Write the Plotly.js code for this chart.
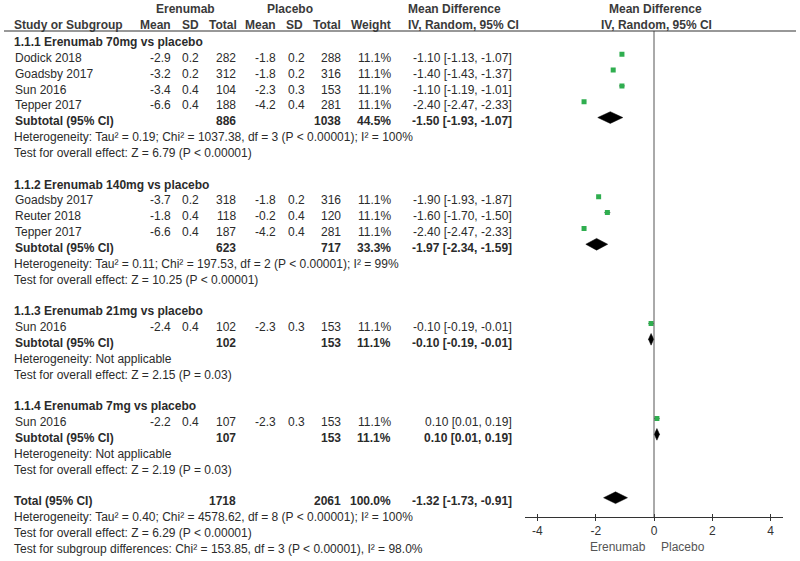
<!DOCTYPE html>
<html><head><meta charset="utf-8">
<script src="https://cdn.plot.ly/plotly-3.0.1.min.js"></script>
<style>html,body{margin:0;padding:0;background:#fff}#chart{width:800px;height:561px}</style>
</head><body><div id="chart"></div>
<script>
// ---------- data ----------
const groupTitles = ["1.1.1 Erenumab 70mg vs placebo", "1.1.2 Erenumab 140mg vs placebo", "1.1.3 Erenumab 21mg vs placebo", "1.1.4 Erenumab 7mg vs placebo"];
const studyNames = ["Dodick 2018", "Goadsby 2017", "Sun 2016", "Tepper 2017", "Goadsby 2017", "Reuter 2018", "Tepper 2017", "Sun 2016", "Sun 2016"];
const studyGroup = [0, 0, 0, 0, 1, 1, 1, 2, 3];
const expMean = [-2.9, -3.2, -3.4, -6.6, -3.7, -1.8, -6.6, -2.4, -2.2];
const expSD = [0.2, 0.2, 0.4, 0.4, 0.2, 0.4, 0.4, 0.4, 0.4];
const expN = [282, 312, 104, 188, 318, 118, 187, 102, 107];
const ctlMean = [-1.8, -1.8, -2.3, -4.2, -1.8, -0.2, -4.2, -2.3, -2.3];
const ctlSD = [0.2, 0.2, 0.3, 0.4, 0.2, 0.4, 0.4, 0.3, 0.3];
const ctlN = [288, 316, 153, 281, 316, 120, 281, 153, 153];
const studyWeight = [11.1, 11.1, 11.1, 11.1, 11.1, 11.1, 11.1, 11.1, 11.1];
const studyMD = [-1.10, -1.40, -1.10, -2.40, -1.90, -1.60, -2.40, -0.10, 0.10];
const studyLo = [-1.13, -1.43, -1.19, -2.47, -1.93, -1.70, -2.47, -0.19, 0.01];
const studyHi = [-1.07, -1.37, -1.01, -2.33, -1.87, -1.50, -2.33, -0.01, 0.19];
const subExpN = [886, 623, 102, 107];
const subCtlN = [1038, 717, 153, 153];
const subWeight = [44.5, 33.3, 11.1, 11.1];
const subMD = [-1.50, -1.97, -0.10, 0.10];
const subLo = [-1.93, -2.34, -0.19, 0.01];
const subHi = [-1.07, -1.59, -0.01, 0.19];
const subHet = [
  "Heterogeneity: Tau² = 0.19; Chi² = 1037.38, df = 3 (P < 0.00001); I² = 100%",
  "Heterogeneity: Tau² = 0.11; Chi² = 197.53, df = 2 (P < 0.00001); I² = 99%",
  "Heterogeneity: Not applicable",
  "Heterogeneity: Not applicable"];
const subTest = [
  "Test for overall effect: Z = 6.79 (P < 0.00001)",
  "Test for overall effect: Z = 10.25 (P < 0.00001)",
  "Test for overall effect: Z = 2.15 (P = 0.03)",
  "Test for overall effect: Z = 2.19 (P = 0.03)"];
const totalStats = [1718, 2061, 100.0];           // exp N, ctl N, weight
const totalEffect = [-1.32, -1.73, -0.91];        // MD, lo, hi
const totalNotes = [
  "Heterogeneity: Tau² = 0.40; Chi² = 4578.62, df = 8 (P < 0.00001); I² = 100%",
  "Test for overall effect: Z = 6.29 (P < 0.00001)",
  "Test for subgroup differences: Chi² = 153.85, df = 3 (P < 0.00001), I² = 98.0%"];
const xTickVals = [-4, -2, 0, 2, 4];
const xTickText = ["-4", "-2", "0", "2", "4"];
const favourLabels = ["Erenumab", "Placebo"];

// ---------- layout helpers ----------
const W = 800, H = 561;
const FONT = "Liberation Sans, Arial, Helvetica, sans-serif";
const TXT = "#2b2b2b";
const ROW0 = 42, ROWH = 15.84;
const px2row = p => (p - ROW0) / ROWH;
const col = {name: 13, em: 172, esd: 200, en: 237, cm: 277, csd: 306, cn: 342, w: 392, ci: 513};
const annotations = [];
function ann(text, px, row, anchor, bold, color) {
  annotations.push({text: bold ? "<b>" + text + "</b>" : text, xref: "paper", x: px / W,
    yref: "y", y: row, xanchor: anchor, yanchor: "middle", showarrow: false, borderpad: 0,
    font: {family: FONT, size: 12, color: color || TXT}});
}
const f1 = v => v.toFixed(1), f2 = v => v.toFixed(2);
const ciText = (m, l, h) => f2(m) + " [" + f2(l) + ", " + f2(h) + "]";

// headers
const HC = "#3a3a3a";
const hr1 = px2row(9), hr2 = px2row(25);
ann("Erenumab", 185, hr1, "center", true, HC);
ann("Placebo", 290, hr1, "center", true, HC);
ann("Mean Difference", 407, hr1, "left", true, HC);
ann("Mean Difference", 655, hr1, "center", true, HC);
ann("Study or Subgroup", col.name, hr2, "left", true, HC);
ann("Mean", col.em, hr2, "right", true, HC);
ann("SD", col.esd, hr2, "right", true, HC);
ann("Total", 238, hr2, "right", true, HC);
ann("Mean", col.cm, hr2, "right", true, HC);
ann("SD", 304, hr2, "right", true, HC);
ann("Total", col.cn, hr2, "right", true, HC);
ann("Weight", col.w, hr2, "right", true, HC);
ann("IV, Random, 95% CI", 407, hr2, "left", true, HC);
ann("IV, Random, 95% CI", 656, hr2, "center", true, HC);

// body rows
const studyRows = [], subRows = [];
let k = 0;
groupTitles.forEach((title, g) => {
  ann(title, col.name, k, "left", true); k++;
  studyNames.forEach((nm, i) => {
    if (studyGroup[i] !== g) return;
    ann(nm, 14, k, "left");
    ann(f1(expMean[i]), col.em, k, "right");
    ann(f1(expSD[i]), col.esd, k, "right");
    ann(String(expN[i]), col.en, k, "right");
    ann(f1(ctlMean[i]), col.cm, k, "right");
    ann(f1(ctlSD[i]), col.csd, k, "right");
    ann(String(ctlN[i]), col.cn, k, "right");
    ann(f1(studyWeight[i]) + "%", col.w, k, "right");
    ann(ciText(studyMD[i], studyLo[i], studyHi[i]), col.ci, k, "right");
    studyRows[i] = k; k++;
  });
  ann("Subtotal (95% CI)", 14, k, "left", true);
  ann(String(subExpN[g]), col.en, k, "right", true);
  ann(String(subCtlN[g]), col.cn, k, "right", true);
  ann(f1(subWeight[g]) + "%", col.w, k, "right", true);
  ann(ciText(subMD[g], subLo[g], subHi[g]), col.ci, k, "right", true);
  subRows[g] = k; k++;
  ann(subHet[g], col.name, k, "left"); k++;
  ann(subTest[g], col.name, k, "left"); k++;
  k++;
});
const totalRow = k;
ann("Total (95% CI)", col.name, k, "left", true);
ann(String(totalStats[0]), col.en, k, "right", true);
ann(String(totalStats[1]), col.cn, k, "right", true);
ann(f1(totalStats[2]) + "%", col.w, k, "right", true);
ann(ciText(totalEffect[0], totalEffect[1], totalEffect[2]), col.ci, k, "right", true);
k++;
totalNotes.forEach(t => { ann(t, col.name, k, "left"); k++; });

// favour labels under axis
const axisY = 1 - 517 / H;
annotations.push({text: favourLabels[0], xref: "x", x: -0.24, yref: "paper", y: 1 - 539 / H,
  xanchor: "right", yanchor: "top", showarrow: false, borderpad: 0, font: {family: FONT, size: 12, color: "#555"}});
annotations.push({text: favourLabels[1], xref: "x", x: 0.2, yref: "paper", y: 1 - 539 / H,
  xanchor: "left", yanchor: "top", showarrow: false, borderpad: 0, font: {family: FONT, size: 12, color: "#555"}});

// ---------- traces ----------
const MOFF = -0.23, DH = 0.37;
const traces = [];
traces.push({
  type: "scatter", mode: "markers", x: studyMD, y: studyRows.map(r => r + MOFF),
  marker: {symbol: "square", size: 5, color: "#2fae4f"},
  error_x: {type: "data", symmetric: false,
    array: studyHi.map((h, i) => h - studyMD[i]), arrayminus: studyLo.map((l, i) => studyMD[i] - l),
    thickness: 1, width: 0, color: "#333"},
  hoverinfo: "skip", showlegend: false
});
function diamond(m, l, h, r) {
  const y = r + MOFF;
  traces.push({type: "scatter", mode: "lines", x: [l, m, h, m, l], y: [y, y - DH, y, y + DH, y],
    fill: "toself", fillcolor: "#000", line: {color: "#000", width: 0.5}, hoverinfo: "skip", showlegend: false});
}
subMD.forEach((m, g) => diamond(m, subLo[g], subHi[g], subRows[g]));
diamond(totalEffect[0], totalEffect[1], totalEffect[2], totalRow);
traces.push({type: "scatter", mode: "markers", x: [0], y: [0], xaxis: "x2", yaxis: "y",
  marker: {opacity: 0}, hoverinfo: "skip", showlegend: false});

const XR = [-4.44, 4.44];
const XD = [524.6 / W, 783.4 / W];
const layout = {
  width: W, height: H, margin: {l: 0, r: 0, t: 0, b: 0},
  paper_bgcolor: "#fff", plot_bgcolor: "rgba(0,0,0,0)", showlegend: false,
  font: {family: FONT, size: 12, color: TXT},
  xaxis: {domain: XD, range: XR, anchor: "free", position: axisY, showline: true, linecolor: "#333", linewidth: 1,
    ticks: "outside", ticklen: 3, tickcolor: "#333", tickvals: xTickVals, ticktext: xTickText,
    showgrid: false, zeroline: false, tickfont: {family: FONT, size: 12, color: "#333"}, fixedrange: true},
  xaxis2: {overlaying: "x", range: XR, anchor: "free", position: axisY, showline: false,
    ticks: "inside", ticklen: 3, tickcolor: "#333", tickvals: xTickVals, showticklabels: false,
    showgrid: false, zeroline: false},
  yaxis: {domain: [0, 1], range: [px2row(H), px2row(0)], visible: false, fixedrange: true},
  shapes: [
    {type: "line", xref: "x", x0: 0, x1: 0, yref: "paper", y0: axisY, y1: 1 - 31 / H, line: {color: "#555", width: 1}},
    {type: "line", xref: "paper", x0: 4 / W, x1: 796 / W, yref: "paper", y0: 1 - 31 / H, y1: 1 - 31 / H, line: {color: "#333", width: 1.2}}
  ],
  annotations: annotations
};
Plotly.newPlot("chart", traces, layout, {staticPlot: true, displayModeBar: false});
</script></body></html>
